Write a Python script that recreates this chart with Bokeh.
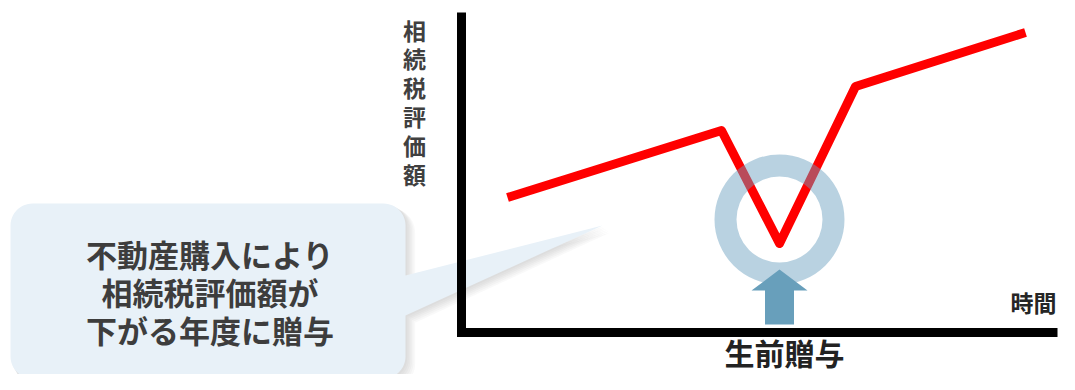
import numpy as np
from bokeh.plotting import figure
from bokeh.models import Range1d
from bokeh.core.properties import value
from bokeh.embed import file_html
from bokeh.resources import INLINE

# ---- data (chart units: time on x, valuation on y; axes cross at 0,0) ----
time = [0.46, 2.60, 3.18, 3.94, 5.64]
valuation = [1.35, 2.02, 0.89, 2.46, 3.00]
dip_index = 2

y_label = "相続税評価額"
x_label = "時間"
bottom_label = "生前贈与"
bubble_lines = ["不動産購入により", "相続税評価額が", "下がる年度に贈与"]

FONT = value("Noto Sans CJK JP")

p = figure(width=1059, height=374, output_backend="svg", toolbar_location=None,
           x_range=Range1d(-4.61, 5.98), y_range=Range1d(-0.42, 3.32),
           min_border=0, min_border_left=0, min_border_right=0,
           min_border_top=0, min_border_bottom=0)
p.xaxis.visible = False
p.yaxis.visible = False
p.grid.visible = False
p.outline_line_color = None
p.background_fill_color = "white"
p.border_fill_color = "white"

# ---- speech bubble ----
bx0, bx1, by0, by1, br = -4.51, -0.56, -0.46, 1.29, 0.22
tail_lo, tail_hi = 0.17, 0.57
tip_x, tip_y = 1.41, 1.07


def arc(cx, cy, r, a0, a1, n=14):
    a = np.linspace(np.radians(a0), np.radians(a1), n)
    return list(cx + r * np.cos(a)), list(cy + r * np.sin(a))


def bubble(dx=0.0, dy=0.0, grow=0.0):
    x0, x1, y0, y1 = bx0 - grow + dx, bx1 + grow + dx, by0 - grow + dy, by1 + grow + dy
    r = br + grow
    xs, ys = [], []
    ax, ay = arc(x1 - r, y0 + r, r, -90, 0)
    xs += ax; ys += ay
    xs += [x1, tip_x + dx, x1]; ys += [tail_lo + dy, tip_y + dy, tail_hi + dy]
    ax, ay = arc(x1 - r, y1 - r, r, 0, 90)
    xs += ax; ys += ay
    ax, ay = arc(x0 + r, y1 - r, r, 90, 180)
    xs += ax; ys += ay
    ax, ay = arc(x0 + r, y0 + r, r, 180, 270)
    xs += ax; ys += ay
    return xs, ys


for k in range(1, 7):
    sx, sy = bubble(dx=0.012 * k, dy=-0.012 * k, grow=0.004 * k)
    p.patch(sx, sy, fill_color="#7f7f7f", fill_alpha=0.045, line_color=None)

bxs, bys = bubble()
p.patch(bxs, bys, fill_color="#e8f1f8", line_color=None)

line_gap = 0.38
p.text(x=[(bx0 + bx1) / 2 + 0.02] * len(bubble_lines),
       y=[0.79 - line_gap * i for i in range(len(bubble_lines))],
       text=bubble_lines, text_font=FONT, text_font_style="bold",
       text_font_size="31px", text_color="#3d3d3d", text_align="center",
       text_baseline="middle")

# ---- axes ----
p.segment(x0=[0], y0=[-0.045], x1=[0], y1=[3.20], line_color="black",
          line_width=9, line_cap="butt")
p.segment(x0=[-0.045], y0=[0], x1=[5.96], y1=[0], line_color="black",
          line_width=9, line_cap="butt")

chars = list(y_label)
p.text(x=[-0.47] * len(chars), y=[3.03 - 0.288 * i for i in range(len(chars))],
       text=chars, text_font=FONT, text_font_style="bold", text_font_size="23px",
       text_color="#404040", text_align="center", text_baseline="middle")
p.text(x=[5.72], y=[0.31], text=[x_label], text_font=FONT,
       text_font_style="bold", text_font_size="23px", text_color="#262626",
       text_align="center", text_baseline="middle")

# ---- valuation line ----
p.line(time, valuation, line_color="#ff0000", line_width=9,
       line_join="round", line_cap="butt")

# ---- highlight ring + arrow at the dip ----
cx = time[dip_index]
ring_y = valuation[dip_index] + 0.24
p.annulus(x=[cx], y=[ring_y], inner_radius=0.43, outer_radius=0.65,
          fill_color="#6a9fc0", fill_alpha=0.47, line_color=None)

tip = ring_y - 0.50
head_base = tip - 0.21
bottom = 0.08
ax_pts = [cx, cx + 0.28, cx + 0.145, cx + 0.145, cx - 0.145, cx - 0.145, cx - 0.28]
ay_pts = [tip, head_base, head_base, bottom, bottom, head_base, head_base]
p.patch(ax_pts, ay_pts, fill_color="#689fbb", line_color=None)

p.text(x=[cx + 0.05], y=[-0.41], text=[bottom_label], text_font=FONT,
       text_font_style="bold", text_font_size="30px", text_color="#222222",
       text_align="center", text_baseline="bottom")

open("out.html", "w").write(file_html(p, INLINE))
